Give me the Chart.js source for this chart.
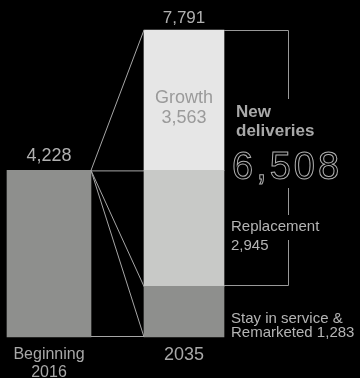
<!DOCTYPE html>
<html><head><meta charset="utf-8">
<script src="https://cdn.jsdelivr.net/npm/chart.js@4/dist/chart.umd.min.js"></script>
<style>html,body{margin:0;padding:0;background:#000;overflow:hidden}</style>
</head><body>
<canvas id="c" width="360" height="378"></canvas>
<script>
// ---- data ----
const categories = [['Beginning', '2016'], ['2035']];
const fleet2016 = [4228];
const segmentNames = [['Stay in service &', 'Remarketed'], ['Replacement'], ['Growth']];
const fleet2035 = [1283, 2945, 3563];
const newDeliveries = [6508];
const totals = [4228, 7791];

const FONT = "'Liberation Sans', Arial, sans-serif";
const fmt = v => v.toLocaleString('en-US');
const labels = [categories[0], '', categories[1], ''];

const connectorPlugin = {
  id: 'connectors',
  afterDatasetsDraw(chart) {
    const ctx = chart.ctx;
    const b1 = chart.getDatasetMeta(0).data[0];
    const s = [1, 2, 3].map(i => chart.getDatasetMeta(i).data[2]);
    const b1R = b1.x + b1.width / 2, b1T = b1.y, base = b1.base;
    const b2L = s[0].x - s[0].width / 2, b2R = s[0].x + s[0].width / 2;
    const topY = s[2].y, repTop = s[1].y, stayTop = s[0].y;
    ctx.save();
    ctx.strokeStyle = '#a6a6a6';
    ctx.lineWidth = 1;
    const line = (x1, y1, x2, y2) => { ctx.beginPath(); ctx.moveTo(x1, y1); ctx.lineTo(x2, y2); ctx.stroke(); };
    line(b1R, b1T, b2L, topY);
    line(b1R, b1T + 0.5, b2L, repTop + 0.5);
    line(b1R, b1T, b2L, stayTop);
    line(b1R, b1T, b2L, base);
    line(b1R, base - 0.5, b2L, base - 0.5);
    // bracket
    const bx = Math.round(b2R + 64) + 0.5;
    ctx.strokeStyle = '#999';
    ctx.beginPath();
    ctx.moveTo(b2R, Math.round(topY) + 0.5); ctx.lineTo(bx, Math.round(topY) + 0.5); ctx.lineTo(bx, 99);
    ctx.moveTo(bx, 188); ctx.lineTo(bx, 215);
    ctx.moveTo(bx, 240); ctx.lineTo(bx, Math.round(stayTop) - 0.5); ctx.lineTo(b2R, Math.round(stayTop) - 0.5);
    ctx.stroke();

    // value labels
    ctx.textAlign = 'center';
    ctx.textBaseline = 'alphabetic';
    ctx.fillStyle = '#b0b0b0';
    ctx.font = '17px ' + FONT;
    ctx.fillText(fmt(totals[1]), s[2].x, topY - 7);
    ctx.font = '18px ' + FONT;
    ctx.fillText(fmt(totals[0]), b1.x, b1T - 9);
    // growth inside bar
    ctx.fillStyle = '#9a9a9a';
    ctx.font = '18px ' + FONT;
    const gMid = (topY + repTop) / 2;
    ctx.fillText(segmentNames[2][0], s[2].x, gMid + 3);
    ctx.fillText(fmt(fleet2035[2]), s[2].x, gMid + 23);

    // right side labels
    ctx.textAlign = 'left';
    ctx.fillStyle = '#a8a8a8';
    ctx.font = 'bold 17px ' + FONT;
    ctx.fillText('New', 236, 117);
    ctx.fillText('deliveries', 236, 136);
    ctx.strokeStyle = '#b0b0b0';
    ctx.lineWidth = 1;
    ctx.font = '38px ' + FONT;
    ctx.letterSpacing = '3px';
    ctx.strokeText(fmt(newDeliveries[0]), 232, 179);
    ctx.letterSpacing = '0px';

    ctx.fillStyle = '#b4b4b4';
    ctx.font = '15px ' + FONT;
    const rMid = (repTop + stayTop) / 2;
    ctx.fillText(segmentNames[1][0], 231, rMid + 3);
    ctx.fillText(fmt(fleet2035[1]), 231, rMid + 22);
    const sMid = (stayTop + base) / 2;
    ctx.fillText(segmentNames[0][0], 231, sMid + 11);
    ctx.fillText(segmentNames[0][1] + ' ' + fmt(fleet2035[0]), 231, sMid + 25);
    ctx.restore();
  }
};

new Chart(document.getElementById('c'), {
  type: 'bar',
  data: {
    labels: labels,
    datasets: [
      { data: [fleet2016[0], null, null, null], backgroundColor: '#8e8f8d', barThickness: 84, clip: false },
      { data: [null, null, fleet2035[0], null], backgroundColor: '#8e8f8d', barThickness: 80, clip: false },
      { data: [null, null, fleet2035[1], null], backgroundColor: '#c8c9c7', barThickness: 80, clip: false },
      { data: [null, null, fleet2035[2], null], backgroundColor: '#e6e6e6', barThickness: 80, clip: false }
    ]
  },
  options: {
    responsive: false,
    animation: false,
    devicePixelRatio: 1,
    layout: { padding: { left: 15.25, right: 74.75, top: 30, bottom: 0 } },
    plugins: { legend: { display: false }, tooltip: { enabled: false } },
    scales: {
      x: {
        stacked: true, offset: true,
        grid: { display: false, drawTicks: false },
        border: { display: false },
        ticks: {
          color: '#a8a8a8', padding: 8, maxRotation: 0, autoSkip: false,
          font: (c) => c.index === 0 ? { family: FONT, size: 16, lineHeight: 1.15 } : { family: FONT, size: 18, lineHeight: 1.15 }
        },
        afterFit(sc) { sc.height = 41; }
      },
      y: { stacked: true, display: false, min: 0, max: totals[1] }
    }
  },
  plugins: [connectorPlugin]
});
</script>
</body></html>
